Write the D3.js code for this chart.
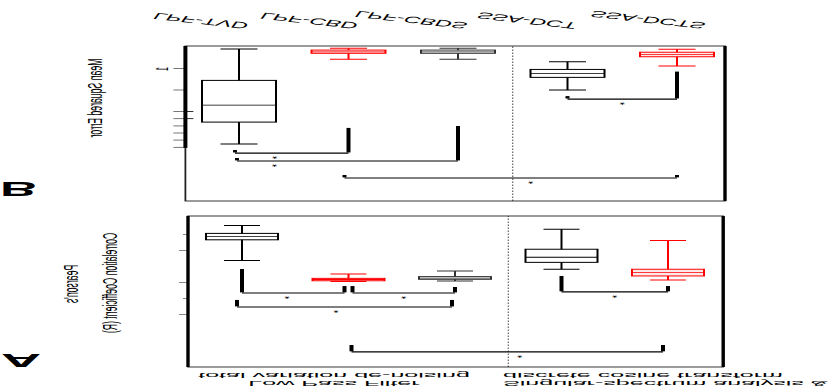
<!DOCTYPE html>
<html>
<head>
<meta charset="utf-8">
<script src="https://cdn.jsdelivr.net/npm/d3@7"></script>
<style>
  body { margin: 0; background: #fff; }
  svg { display: block; font-family: "Liberation Sans", Arial, sans-serif; }
</style>
</head>
<body>
<div id="chart"></div>
<script>
// the figure is mirrored top-to-bottom and stretched sideways:
// everything is drawn on a 415 x 388 sheet, then flipped / stretched at the end

const methods = ["LPF-TVD", "LPF-CBD", "LPF-CBDS", "SSA-DCT", "SSA-DCTS"];
const methodColors = ["#000", "#ff0000", "#333", "#000", "#ff0000"];
const methodFills = ["#fff", "#ffe8e8", "#fff", "#fff", "#ffe8e8"];

// [min, q1, median, q3, max]
const pearsonR = [
  [0.44, 0.49, 0.51, 0.53, 0.66],
  [0.744, 0.771, 0.778, 0.786, 0.79],
  [0.725, 0.76, 0.769, 0.777, 0.7875],
  [0.464, 0.589, 0.639, 0.671, 0.714],
  [0.535, 0.714, 0.735, 0.756, 0.781]
];
const mse = [
  [0.07, 1.53, 2.68, 3.47, 4.49],
  [0.04, 0.12, 0.20, 0.27, 0.55],
  [0.04, 0.12, 0.20, 0.27, 0.55],
  [0.66, 1.02, 1.20, 1.39, 1.98],
  [0.08, 0.22, 0.32, 0.43, 0.86]
];

// axis ticks
const rTicksLong = [0.6, 0.8, 1.0];
const rTicksShort = [0.5, 0.9];
const mseTicks = [1, 2, 3, 3.33, 3.67, 4, 4.33, 4.67];
const mseCrossTicks = [3, 3.33];
const mseTickLabel = {value: 1, text: "1"};

// significance brackets: a/b = method index, legs end at legA / legB, t = where the star sits
const rBrackets = [
  {a: 0, b: 1, level: 0.8625, legA: 0.7125, legB: 0.819, t: 0.44},
  {a: 1, b: 2, level: 0.8625, legA: 0.819, legB: 0.825, t: 0.5},
  {a: 0, b: 2, level: 0.95, legA: 0.906, legB: 0.906, t: 0.46},
  {a: 1, b: 4, level: 1.231, legA: 1.1875, legB: 1.1875, t: 0.54},
  {a: 3, b: 4, level: 0.856, legA: 0.756, legB: 0.819, t: 0.5}
];
const mseBrackets = [
  {a: 0, b: 1, level: 4.91, legA: 4.77, legB: 3.74, t: 0.35},
  {a: 0, b: 2, level: 5.28, legA: 5.14, legB: 3.65, t: 0.17},
  {a: 1, b: 4, level: 6.07, legA: 5.93, legB: 5.93, t: 0.56},
  {a: 3, b: 4, level: 2.40, legA: 2.26, legB: 1.12, t: 0.5}
];

const groupLeft = ["Low Pass Filter", "total variation de-noising"];
const groupRight = ["Singular-spectrum analysis &", "discrete cosine transform"];

const W = 415, H = 388, STRETCH = 2;

const svg = d3.select("#chart").append("svg")
    .attr("width", W * STRETCH)
    .attr("height", H);

const root = svg.append("g")
    .attr("transform", `translate(0,${H}) scale(${STRETCH},-1)`);

// pulls bracket ends apart where two brackets meet on the same box
const nudgeA = [[0, -2], [2, 0], [-2.5, -1.5], [1.5, -2.5], [0, 0]];
const nudgeB = [[-2, 0], [-1, 0], [-2, 0], [0, 0]];
// method name offsets (the last name sits further right)
const labelShift = [5.5, 5.5, 5.5, 5.5, 15];

const panels = [
  {
    letter: "A", stats: pearsonR, brackets: rBrackets, nudge: nudgeA,
    frame: {x0: 94, x1: 361.6, y0: 21, y1: 172},
    x: d3.scalePoint(methods, [121, 334]),
    y: d3.scaleLinear().domain([0.5, 1]).range([153, 73]),
    boxW: 36
  },
  {
    letter: "B", stats: mse, brackets: mseBrackets, nudge: nudgeB,
    frame: {x0: 92.7, x1: 362.5, y0: 187, y1: 342},
    x: d3.scalePoint(methods, [119.5, 338.5]),
    y: d3.scaleLinear().domain([1, 4]).range([319, 254.5]),
    boxW: 37
  }
];

panels.forEach(p => {
  const g = root.append("g");
  const f = p.frame;

  // frame: thin top/bottom and left, heavy right side
  g.append("rect")
      .attr("x", f.x0).attr("y", f.y0)
      .attr("width", f.x1 - f.x0).attr("height", f.y1 - f.y0)
      .attr("fill", "none").attr("stroke", "#222").attr("stroke-width", 0.9);
  g.append("line")
      .attr("x1", f.x1).attr("x2", f.x1).attr("y1", f.y0).attr("y2", f.y1)
      .attr("stroke", "#000").attr("stroke-width", 1.7);

  // dotted line between the two method families
  const sep = (p.x(methods[2]) + p.x(methods[3])) / 2;
  g.append("line")
      .attr("x1", sep).attr("x2", sep).attr("y1", f.y0).attr("y2", f.y1)
      .attr("stroke", "#000").attr("stroke-width", 0.5)
      .attr("stroke-dasharray", "1.5,1.5");

  // boxes
  const bw = p.boxW;
  const box = g.selectAll(".box")
    .data(p.stats)
    .join("g")
      .attr("class", "box")
      .attr("transform", (d, i) => `translate(${p.x(methods[i])},0)`)
      .attr("stroke", (d, i) => methodColors[i])
      .attr("stroke-width", 1)
      .attr("fill", (d, i) => methodFills[i]);

  box.append("line")
      .attr("y1", d => p.y(d[0])).attr("y2", d => p.y(d[4]));
  box.selectAll(".cap")
    .data(d => [d[0], d[4]])
    .join("line")
      .attr("x1", -bw / 4).attr("x2", bw / 4)
      .attr("y1", v => p.y(v)).attr("y2", v => p.y(v));
  box.append("rect")
      .attr("x", -bw / 2).attr("width", bw)
      .attr("y", d => p.y(d[3]))
      .attr("height", d => Math.max(0.5, p.y(d[1]) - p.y(d[3])));
  box.append("line")
      .attr("x1", -bw / 2).attr("x2", bw / 2)
      .attr("y1", d => p.y(d[2])).attr("y2", d => p.y(d[2]))
      .attr("stroke-width", 0.8);

  // significance brackets
  const br = g.selectAll(".bracket")
    .data(p.brackets)
    .join("g")
      .attr("class", "bracket");
  const xa = (d, i) => p.x(methods[d.a]) + p.nudge[i][0];
  const xb = (d, i) => p.x(methods[d.b]) + p.nudge[i][1];
  br.append("line")
      .attr("x1", xa).attr("x2", xb)
      .attr("y1", d => p.y(d.level)).attr("y2", d => p.y(d.level))
      .attr("stroke", "#000").attr("stroke-width", 1.2);
  br.append("line")
      .attr("x1", xa).attr("x2", xa)
      .attr("y1", d => p.y(d.legA)).attr("y2", d => p.y(d.level) + 0.6)
      .attr("stroke", "#000").attr("stroke-width", 2);
  br.append("line")
      .attr("x1", xb).attr("x2", xb)
      .attr("y1", d => p.y(d.legB)).attr("y2", d => p.y(d.level) + 0.6)
      .attr("stroke", "#000").attr("stroke-width", 2);
  br.append("text")
      .attr("transform", (d, i) => {
        const x = xa(d, i) + d.t * (xb(d, i) - xa(d, i));
        return `translate(${x},${p.y(d.level) - 1})`;
      })
      .attr("text-anchor", "middle")
      .attr("font-size", 7)
      .text("*");

  // panel letter
  g.append("text")
      .attr("transform", p.letter === "A"
        ? `translate(0.5,${f.y0 + 13}) scale(1.55,1)`
        : `translate(0,${f.y0 + 19}) scale(1.28,1)`)
      .attr("font-weight", "bold")
      .attr("font-size", p.letter === "A" ? 18 : 20)
      .text(p.letter);
});

// ---- y axes ----
const [pA, pB] = panels;

const axA = root.append("g").attr("transform", `translate(${pA.frame.x0},0)`);
axA.append("g")
    .call(d3.axisLeft(pA.y).tickValues(rTicksLong).tickSize(4.5).tickFormat(""))
    .call(a => a.select(".domain").remove())
    .call(a => a.selectAll("line").attr("stroke", "#888"));
axA.append("g")
    .call(d3.axisLeft(pA.y).tickValues(rTicksShort).tickSize(2.5).tickFormat(""))
    .call(a => a.select(".domain").remove())
    .call(a => a.selectAll("line").attr("stroke", "#888"));
axA.append("line")
    .attr("y1", pA.frame.y0).attr("y2", pA.frame.y1)
    .attr("stroke", "#000").attr("stroke-width", 1.7);

const axB = root.append("g").attr("transform", `translate(${pB.frame.x0},0)`);
axB.append("g")
    .call(d3.axisLeft(pB.y).tickValues(mseTicks).tickSize(6).tickFormat(""))
    .call(a => a.select(".domain").remove())
    .call(a => a.selectAll("line").attr("stroke", "#777"));
axB.append("g")
    .call(d3.axisLeft(pB.y).tickValues(mseCrossTicks).tickSizeInner(-4).tickSizeOuter(0).tickFormat(""))
    .call(a => a.select(".domain").remove())
    .call(a => a.selectAll("line").attr("stroke", "#333"));
axB.append("line")
    .attr("y1", pB.frame.y1).attr("y2", pB.y(d3.max(mseTicks)))
    .attr("stroke", "#000").attr("stroke-width", 2);
axB.append("text")
    .attr("transform", `translate(-8.5,${pB.y(mseTickLabel.value)}) scale(1.2,1) rotate(-90)`)
    .attr("text-anchor", "middle")
    .attr("font-size", 7)
    .text(mseTickLabel.text);

// axis titles (rotated, reading upward in the unflipped figure)
function vText(x, y, size, str) {
  root.append("text")
      .attr("transform", `translate(${x},${y}) scale(1.2,1) rotate(-90)`)
      .attr("text-anchor", "middle")
      .attr("font-size", size)
      .text(str);
}
vText(51, 290, 8.7, "Mean Squared Error");
vText(39, 104, 8.7, "Pearson's");
vText(58.5, 105, 8.7, "Correlation Coefficient (R)");

// method names along the top edge of the unflipped figure
root.selectAll(".mlabel")
  .data(methods)
  .join("text")
    .attr("class", "mlabel")
    .attr("transform", (d, i) => `translate(${pB.x(d) + labelShift[i]},365) scale(1.3,1) rotate(-16)`)
    .attr("text-anchor", "end")
    .attr("font-size", 9)
    .text(d => d);

// family names under panel A
function hText(x, y, anchor, str) {
  root.append("text")
      .attr("transform", `translate(${x},${y}) scale(1.32,0.8)`)
      .attr("text-anchor", anchor)
      .attr("font-size", 9.5)
      .text(str);
}
hText(167, 6.8, "middle", groupLeft[0]);
hText(167, 14.6, "middle", groupLeft[1]);
hText(251.5, 6.8, "start", groupRight[0]);
hText(251.5, 14.6, "start", groupRight[1]);
</script>
</body>
</html>
